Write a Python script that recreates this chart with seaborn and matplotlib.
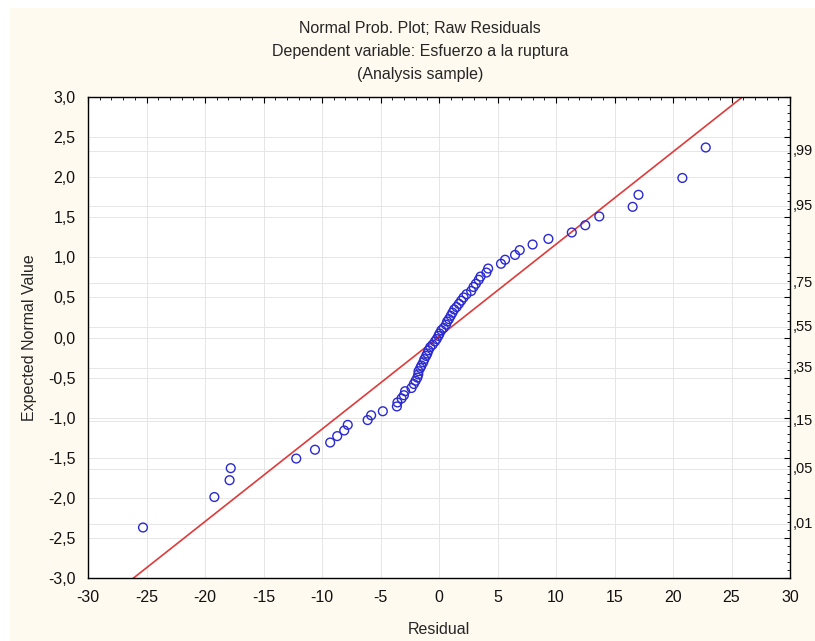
# Normal probability plot of raw residuals (STATISTICA style)
import numpy as np
import pandas as pd
import matplotlib
matplotlib.use("Agg")
import matplotlib.pyplot as plt
from matplotlib.patches import Rectangle
from matplotlib.ticker import MultipleLocator, FuncFormatter
import seaborn as sns

# -------- DATA --------
residuals = [
    -25.3, -19.2, -17.9, -17.8, -12.2, -10.6, -9.3, -8.7, -8.1, -7.8,
    -6.1, -5.8, -4.8, -3.6, -3.55, -3.2, -3.0, -2.9, -2.35, -2.15,
    -2.0, -1.85, -1.77, -1.75, -1.6, -1.5, -1.35, -1.25, -1.1, -1.0,
    -0.9, -0.75, -0.55, -0.35, -0.2, -0.05, 0.05, 0.2, 0.4, 0.6,
    0.7, 0.85, 1.0, 1.15, 1.3, 1.5, 1.7, 1.9, 2.1, 2.35,
    2.75, 2.95, 3.15, 3.4, 3.55, 4.05, 4.2, 5.3, 5.65, 6.5,
    6.9, 8.0, 9.35, 11.35, 12.5, 13.7, 16.55, 17.05, 20.8, 22.8,
]
expected = [
    -2.37, -1.99, -1.78, -1.63, -1.51, -1.40, -1.31, -1.23, -1.16, -1.09,
    -1.03, -0.97, -0.92, -0.86, -0.81, -0.76, -0.72, -0.67, -0.63, -0.58,
    -0.54, -0.50, -0.46, -0.42, -0.38, -0.35, -0.31, -0.27, -0.23, -0.20,
    -0.16, -0.12, -0.09, -0.05, -0.02, 0.02, 0.05, 0.09, 0.12, 0.16,
    0.20, 0.23, 0.27, 0.31, 0.35, 0.38, 0.42, 0.46, 0.50, 0.54,
    0.58, 0.63, 0.67, 0.72, 0.76, 0.81, 0.86, 0.92, 0.97, 1.03,
    1.09, 1.16, 1.23, 1.31, 1.40, 1.51, 1.63, 1.78, 1.99, 2.37,
]
fit_slope = 0.1153
fit_intercept = 0.01

prob_labels = [",99", ",95", ",75", ",55", ",35", ",15", ",05", ",01"]
prob_z = [2.326, 1.645, 0.674, 0.126, -0.385, -1.036, -1.645, -2.326]

df = pd.DataFrame({"Residual": residuals, "Expected": expected})
line_x = np.array([-30, 30])
line_df = pd.DataFrame({"x": line_x, "y": fit_intercept + fit_slope * line_x})

# -------- SETTINGS --------
sns.set_theme(style="white")
plt.rcParams["font.family"] = ["Liberation Sans", "DejaVu Sans"]
FS = 11.5

fig = plt.figure(figsize=(8.15, 6.41), dpi=100, facecolor="white")
fig.patches.append(Rectangle((10 / 815, 0), 1, 1 - 8 / 641, transform=fig.transFigure,
                             facecolor="#fffaef", edgecolor="none", zorder=-10))
ax = fig.add_axes([88 / 815, 63 / 641, 702 / 815, 481 / 641])
ax.set_facecolor("white")

# grid (major ticks + probability levels)
for gx in range(-25, 30, 5):
    ax.axvline(gx, color="#e6e6e6", lw=0.7, zorder=0)
for gy in np.arange(-2.5, 3.0, 0.5):
    ax.axhline(gy, color="#e6e6e6", lw=0.7, zorder=0)
for gz in prob_z:
    ax.axhline(gz, color="#e6e6e6", lw=0.7, zorder=0)

sns.lineplot(data=line_df, x="x", y="y", color="#e03a3a", lw=1.2, ax=ax, zorder=2)
sns.scatterplot(data=df, x="Residual", y="Expected", marker="o", s=40,
                facecolor="none", edgecolor="#2a2ad0", linewidth=1.0, ax=ax, zorder=3)

ax.set_xlim(-30, 30)
ax.set_ylim(-3, 3)
ax.xaxis.set_major_locator(MultipleLocator(5))
ax.xaxis.set_minor_locator(MultipleLocator(1))
ax.yaxis.set_major_locator(MultipleLocator(0.5))
ax.yaxis.set_minor_locator(MultipleLocator(0.1))
ax.xaxis.set_major_formatter(FuncFormatter(lambda v, p: f"{v:g}"))
ax.yaxis.set_major_formatter(FuncFormatter(lambda v, p: f"{v:.1f}".replace(".", ",")))
ax.tick_params(which="both", direction="in", top=True, right=True, colors="black",
               labelsize=FS, labelcolor="#111111")
ax.tick_params(which="major", length=4, width=0.8, pad=9)
ax.tick_params(which="minor", length=2, width=0.6)
for sp in ax.spines.values():
    sp.set_color("black")
    sp.set_linewidth(1.0)

ax.set_xlabel("Residual", fontsize=FS, labelpad=12)
ax.set_ylabel("Expected Normal Value", fontsize=FS, labelpad=8)

# probability labels on the right (kept inside the figure)
for lab, z in zip(prob_labels, prob_z):
    ax.text(1.004, z, lab, transform=ax.get_yaxis_transform(), ha="left",
            va="center", fontsize=10.5, color="#111111", clip_on=False)

# title
fig.text(0.515, 0.956, "Normal Prob. Plot; Raw Residuals", ha="center", va="center", fontsize=FS)
fig.text(0.515, 0.919, "Dependent variable: Esfuerzo a la ruptura", ha="center", va="center", fontsize=FS)
fig.text(0.515, 0.883, "(Analysis sample)", ha="center", va="center", fontsize=FS)

fig.savefig("out.png", dpi=100, facecolor=fig.get_facecolor())
